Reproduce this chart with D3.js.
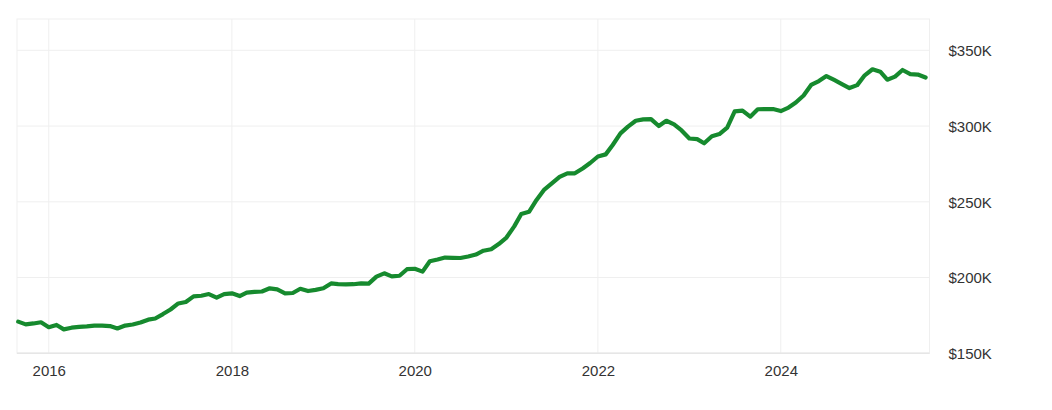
<!DOCTYPE html>
<html>
<head>
<meta charset="utf-8">
<script src="https://cdn.jsdelivr.net/npm/d3@7"></script>
<style>
  html, body { margin: 0; padding: 0; background: #fff; }
  svg { display: block; font-family: "Liberation Sans", Arial, sans-serif; }
</style>
</head>
<body>
<svg id="chart" width="1052" height="410"></svg>
<script>
// ---- data ----
const firstMonth = "2015-09-01";
const values = [
  170900, 169100, 169700, 170500, 167200, 168700, 165800, 166900, 167400, 167800,
  168300, 168300, 168000, 166400, 168300, 169000, 170300, 172200, 173000, 175900,
  178900, 182900, 183900, 187600, 188000, 189100, 186800, 189100, 189600, 187800,
  190000, 190500, 190800, 192900, 192200, 189600, 189800, 192600, 191100, 191900,
  192900, 196100, 195700, 195500, 195600, 196200, 196000, 200600, 202800, 200800,
  201200, 205500, 205800, 203900, 210800, 211900, 213200, 213000, 212900, 213900,
  215200, 217700, 218700, 222100, 226400, 233800, 241900, 243400, 251200, 258100,
  262200, 266400, 268800, 268800, 272000, 275600, 279900, 281300, 287500, 295200,
  299600, 303500, 304400, 304600, 300000, 303500, 301100, 297100, 291800, 291400,
  288600, 293300, 294700, 299000, 309700, 310200, 306200, 311100, 311200, 311200,
  309900, 312200, 315500, 320200, 327100, 329700, 333000, 330400, 327700, 325100,
  327000, 333500, 337500, 335900, 330600, 332600, 337000, 334300, 334000, 332000
];
const xTickYears = [2016, 2018, 2020, 2022, 2024];
const yTicks = [150000, 200000, 250000, 300000, 350000];
const yTickLabels = ["$150K", "$200K", "$250K", "$300K", "$350K"];

// ---- layout ----
const frame = { left: 17, right: 929.5, top: 19, bottom: 353.3 };
const start = new Date(firstMonth + "T00:00:00");
const points = values.map((v, i) => ({ date: d3.timeMonth.offset(start, i), value: v }));

const svg = d3.select("#chart");

const x = d3.scaleTime()
  .domain(d3.extent(points, d => d.date))
  .range([18.2, 925.6]);

const y = d3.scaleLinear()
  .domain([150000, 350000])
  .range([353.3, 50.3]);

const gridColor = "#efefef";

// horizontal grid
svg.append("g")
  .selectAll("line")
  .data(yTicks)
  .join("line")
  .attr("x1", frame.left).attr("x2", frame.right)
  .attr("y1", d => y(d)).attr("y2", d => y(d))
  .attr("stroke", gridColor).attr("stroke-width", 1);

// vertical grid
const xTickDates = xTickYears.map(yr => new Date(yr, 0, 1));
svg.append("g")
  .selectAll("line")
  .data(xTickDates)
  .join("line")
  .attr("x1", d => x(d)).attr("x2", d => x(d))
  .attr("y1", frame.top).attr("y2", frame.bottom)
  .attr("stroke", gridColor).attr("stroke-width", 1);

// frame
svg.append("rect")
  .attr("x", frame.left).attr("y", frame.top)
  .attr("width", frame.right - frame.left)
  .attr("height", frame.bottom - frame.top)
  .attr("fill", "none")
  .attr("stroke", gridColor).attr("stroke-width", 1);
svg.append("line")
  .attr("x1", frame.left).attr("x2", frame.right)
  .attr("y1", frame.bottom).attr("y2", frame.bottom)
  .attr("stroke", "#e6e6e6").attr("stroke-width", 1.5);

// line
const line = d3.line()
  .x(d => x(d.date))
  .y(d => y(d.value));

svg.append("path")
  .datum(points)
  .attr("d", line)
  .attr("fill", "none")
  .attr("stroke", "#168a2e")
  .attr("stroke-width", 4.2)
  .attr("stroke-linejoin", "round")
  .attr("stroke-linecap", "round");

// x axis labels
const xAxis = d3.axisBottom(x)
  .tickValues(xTickDates)
  .tickFormat(d3.timeFormat("%Y"))
  .tickSize(0)
  .tickPadding(0);
const gx = svg.append("g")
  .attr("transform", `translate(0,${frame.bottom})`)
  .call(xAxis);
gx.select(".domain").remove();
gx.selectAll("text")
  .attr("y", 23.2)
  .attr("dy", 0)
  .attr("fill", "#333")
  .style("font-size", "15px")
  .style("font-family", "'Liberation Sans', Arial, sans-serif");

// y axis labels (right)
const yAxis = d3.axisRight(y)
  .tickValues(yTicks)
  .tickFormat((d, i) => yTickLabels[i])
  .tickSize(0)
  .tickPadding(0);
const gy = svg.append("g")
  .attr("transform", `translate(948.5,0)`)
  .call(yAxis);
gy.select(".domain").remove();
gy.selectAll("text")
  .attr("x", 0)
  .attr("dy", "0.35em")
  .attr("fill", "#333")
  .attr("text-anchor", "start")
  .style("font-size", "15px")
  .style("font-family", "'Liberation Sans', Arial, sans-serif");
</script>
</body>
</html>
